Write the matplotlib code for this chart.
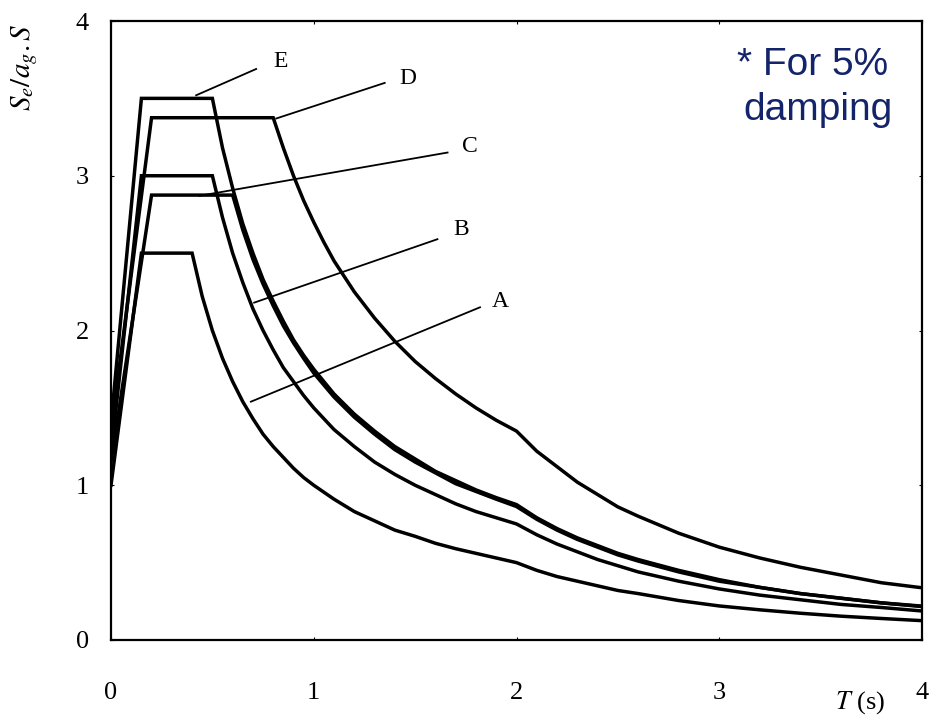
import matplotlib
matplotlib.use('Agg')
from matplotlib import pyplot as plt

# EC8 type 1 elastic spectra
T_A = [0, 0.15, 0.4, 0.45, 0.5, 0.55, 0.6, 0.65, 0.7, 0.75, 0.8, 0.85, 0.9, 0.95, 1.0, 1.1, 1.2, 1.3, 1.4, 1.5, 1.6, 1.7, 1.8, 1.9, 2.0,
       2.1, 2.2, 2.3, 2.4, 2.5, 2.6, 2.8, 3.0, 3.2, 3.4, 3.6, 3.8, 4.0]
S_A = [1.0, 2.5, 2.5, 2.22, 2.0, 1.82, 1.67, 1.54, 1.43, 1.33, 1.25, 1.18, 1.11, 1.05, 1.0, 0.91, 0.83, 0.77, 0.71, 0.67, 0.625, 0.59, 0.56, 0.53, 0.5,
       0.45, 0.41, 0.38, 0.35, 0.32, 0.30, 0.255, 0.22, 0.195, 0.173, 0.154, 0.139, 0.125]

T_B = [0, 0.15, 0.5, 0.55, 0.6, 0.65, 0.7, 0.75, 0.8, 0.85, 0.9, 0.95, 1.0, 1.1, 1.2, 1.3, 1.4, 1.5, 1.6, 1.7, 1.8, 1.9, 2.0,
       2.1, 2.2, 2.3, 2.4, 2.5, 2.6, 2.8, 3.0, 3.2, 3.4, 3.6, 3.8, 4.0]
S_B = [1.2, 3.0, 3.0, 2.73, 2.5, 2.31, 2.14, 2.0, 1.875, 1.76, 1.67, 1.58, 1.5, 1.36, 1.25, 1.15, 1.07, 1.0, 0.94, 0.88, 0.83, 0.79, 0.75,
       0.68, 0.62, 0.57, 0.52, 0.48, 0.44, 0.38, 0.33, 0.29, 0.26, 0.23, 0.21, 0.1875]

T_C = [0, 0.2, 0.6, 0.65, 0.7, 0.75, 0.8, 0.85, 0.9, 0.95, 1.0, 1.1, 1.2, 1.3, 1.4, 1.5, 1.6, 1.7, 1.8, 1.9, 2.0,
       2.1, 2.2, 2.3, 2.4, 2.5, 2.6, 2.8, 3.0, 3.2, 3.4, 3.6, 3.8, 4.0]
S_C = [1.15, 2.875, 2.875, 2.65, 2.46, 2.3, 2.16, 2.03, 1.92, 1.82, 1.725, 1.57, 1.44, 1.33, 1.23, 1.15, 1.08, 1.01, 0.96, 0.91, 0.8625,
       0.78, 0.71, 0.65, 0.60, 0.55, 0.51, 0.44, 0.38, 0.34, 0.30, 0.27, 0.24, 0.216]

T_D = [0, 0.2, 0.8, 0.85, 0.9, 0.95, 1.0, 1.05, 1.1, 1.15, 1.2, 1.3, 1.4, 1.5, 1.6, 1.7, 1.8, 1.9, 2.0,
       2.1, 2.2, 2.3, 2.4, 2.5, 2.6, 2.8, 3.0, 3.2, 3.4, 3.6, 3.8, 4.0]
S_D = [1.35, 3.375, 3.375, 3.18, 3.0, 2.84, 2.7, 2.57, 2.45, 2.35, 2.25, 2.08, 1.93, 1.8, 1.69, 1.59, 1.5, 1.42, 1.35,
       1.22, 1.12, 1.02, 0.94, 0.86, 0.80, 0.69, 0.60, 0.53, 0.47, 0.42, 0.37, 0.3375]

T_E = [0, 0.15, 0.5, 0.55, 0.6, 0.65, 0.7, 0.75, 0.8, 0.85, 0.9, 0.95, 1.0, 1.1, 1.2, 1.3, 1.4, 1.5, 1.6, 1.7, 1.8, 1.9, 2.0,
       2.1, 2.2, 2.3, 2.4, 2.5, 2.6, 2.8, 3.0, 3.2, 3.4, 3.6, 3.8, 4.0]
S_E = [1.4, 3.5, 3.5, 3.18, 2.92, 2.69, 2.5, 2.33, 2.19, 2.06, 1.94, 1.84, 1.75, 1.59, 1.46, 1.35, 1.25, 1.17, 1.09, 1.03, 0.97, 0.92, 0.875,
       0.79, 0.72, 0.66, 0.61, 0.56, 0.52, 0.45, 0.39, 0.34, 0.30, 0.27, 0.24, 0.219]

# label leaders: start point on curve, end point, text position
labels = ['A', 'B', 'C', 'D', 'E']
lead_start = [(0.69, 1.54), (0.706, 2.18), (0.435, 2.87), (0.815, 3.37), (0.42, 3.52)]
lead_end = [(1.82, 2.15), (1.61, 2.59), (1.66, 3.15), (1.35, 3.60), (0.716, 3.69)]
text_pos = [(1.88, 2.19), (1.69, 2.65), (1.73, 3.19), (1.42, 3.63), (0.80, 3.74)]

plt.rcParams['mathtext.fontset'] = 'stix'
plt.rcParams['font.family'] = ['Liberation Serif', 'DejaVu Serif']

fig = plt.figure(figsize=(9.3, 7.19), dpi=100)
ax = fig.add_axes([111 / 930, 1 - 640 / 719, 811 / 930, 619 / 719])

for T, S in [(T_A, S_A), (T_B, S_B), (T_C, S_C), (T_D, S_D), (T_E, S_E)]:
    ax.plot(T, S, color='black', lw=2.5, solid_joinstyle='miter')

for name, p0, p1, tp in zip(labels, lead_start, lead_end, text_pos):
    ax.plot([p0[0], p1[0]], [p0[1], p1[1]], color='black', lw=1.3)
    ax.text(tp[0], tp[1], name, fontsize=17, ha='left', va='center')

ax.set_xlim(0, 4)
ax.set_ylim(0, 4)
ax.set_xticks([0, 1, 2, 3, 4])
ax.set_yticks([0, 1, 2, 3, 4])
ax.tick_params(axis='x', direction='in', length=2, pad=30, labelsize=19, top=True)
ax.tick_params(axis='y', direction='in', length=2, pad=16, labelsize=19, right=True)
for sp in ax.spines.values():
    sp.set_linewidth(1.6)

fig.text(25 / 930, 1 - 67 / 719, r'$S_{e}/a_{g}.S$', rotation=90, fontsize=21,
         ha='center', va='center')
fig.text(860 / 930, 1 - 703 / 719, r'$T$ (s)', fontsize=19, ha='center', va='center')

navy = '#14246a'
fig.text(888 / 930, 1 - 75 / 719, '* For 5%', fontsize=28, color=navy,
         family='Liberation Sans', ha='right', va='baseline')
fig.text(893 / 930, 1 - 120 / 719, 'damping', fontsize=28, color=navy,
         family='Liberation Sans', ha='right', va='baseline')

fig.savefig('out.png', dpi=100)
